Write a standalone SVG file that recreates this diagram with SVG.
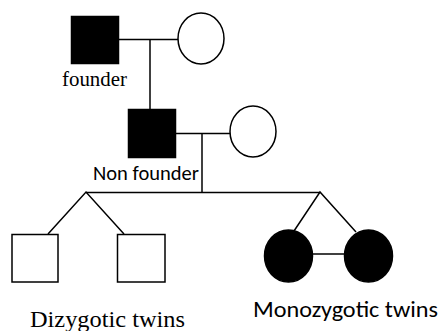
<svg xmlns="http://www.w3.org/2000/svg" width="442" height="331" viewBox="0 0 442 331">
  <style>
    .line { stroke: #000; stroke-width: 1.5; fill: none; }
    .affected { fill: #000; stroke: #000; stroke-width: 1.5; }
    .unaffected { fill: #fff; stroke: #000; stroke-width: 1.5; }
    .serif { font-family: "Liberation Serif", "Times New Roman", serif; fill: #000; }
    .sans { font-family: Carlito, Calibri, "Liberation Sans", Arial, sans-serif; fill: #000; }
  </style>

  <!-- pedigree connectors -->
  <g id="connectors" class="line">
    <!-- first generation marriage and descent -->
    <line x1="119" y1="39.5" x2="178" y2="39.5"/>
    <line x1="150" y1="39.5" x2="150" y2="109"/>
    <!-- second generation marriage and descent -->
    <line x1="176" y1="133.5" x2="230" y2="133.5"/>
    <line x1="202" y1="133.5" x2="202" y2="192"/>
    <!-- sibship line -->
    <line x1="86" y1="192.5" x2="320" y2="192.5"/>
    <!-- dizygotic twin branches -->
    <polyline points="48,234 86,192 124,234"/>
    <!-- monozygotic twin branches and bar -->
    <polyline points="294,231 320,192 356,232"/>
    <line x1="312" y1="254" x2="345" y2="254"/>
  </g>

  <g id="founder">
    <rect class="affected" x="71.5" y="16.5" width="47" height="47"/>
    <text class="serif" x="62" y="86" font-size="20" textLength="65" lengthAdjust="spacingAndGlyphs">founder</text>
  </g>
  <g id="founder-spouse">
    <ellipse class="unaffected" cx="201" cy="38.5" rx="23" ry="25.5"/>
  </g>

  <g id="non-founder">
    <rect class="affected" x="128.5" y="109.5" width="47" height="48"/>
    <text class="sans" x="93" y="180" font-size="19.5" textLength="106" lengthAdjust="spacingAndGlyphs">Non founder</text>
  </g>
  <g id="non-founder-spouse">
    <ellipse class="unaffected" cx="253" cy="131.5" rx="23" ry="25.5"/>
  </g>

  <g id="dizygotic-twin-1">
    <rect class="unaffected" x="12" y="234.5" width="46" height="47.5"/>
  </g>
  <g id="dizygotic-twin-2">
    <rect class="unaffected" x="117.5" y="234.5" width="47.5" height="47.5"/>
  </g>
  <g id="monozygotic-twin-1">
    <ellipse class="affected" cx="288.5" cy="256" rx="24" ry="26"/>
  </g>
  <g id="monozygotic-twin-2">
    <ellipse class="affected" cx="368.5" cy="256" rx="24" ry="26"/>
  </g>

  <g id="labels">
    <text class="serif" x="30" y="326.5" font-size="24" textLength="155" lengthAdjust="spacingAndGlyphs">Dizygotic twins</text>
    <text class="sans" x="253" y="316.5" font-size="23" textLength="185" lengthAdjust="spacingAndGlyphs">Monozygotic twins</text>
  </g>
</svg>
